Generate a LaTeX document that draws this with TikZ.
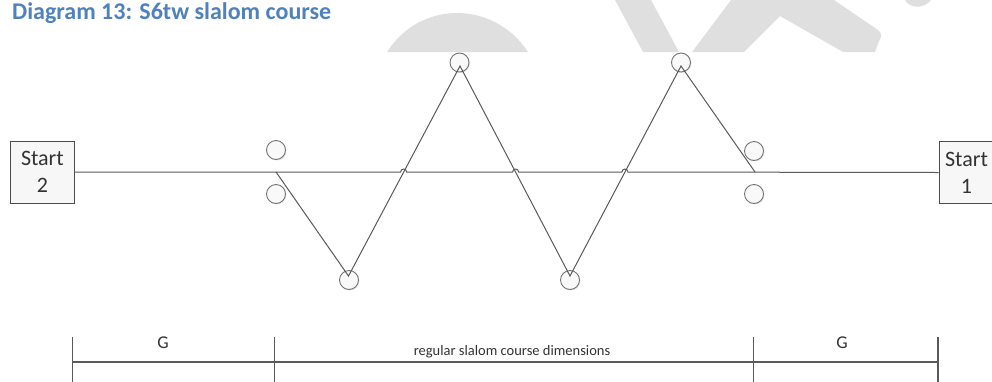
\documentclass[tikz,border=0pt]{standalone}
\usepackage{fontspec}
\setmainfont{Carlito}
\usetikzlibrary{shadows}
\definecolor{ttl}{HTML}{4F81BD}
\definecolor{ln}{HTML}{595959}
\definecolor{wm}{HTML}{DFDFDF}
\begin{document}
\begin{tikzpicture}[x=1pt,y=-1pt,
  buoy/.style={circle,draw=black!55,line width=0.9pt,fill=gray!5,minimum size=19pt,inner sep=0pt,
    drop shadow={opacity=0.18,shadow xshift=1pt,shadow yshift=-1pt}},
  startbox/.style={draw=black!70,line width=0.9pt,fill=gray!6,minimum width=63.5pt,minimum height=62pt,
    inner sep=0pt,align=center,font=\fontsize{22}{27}\selectfont,text=black!80},
  course/.style={draw=ln,line width=1pt},
  dim/.style={draw=ln,line width=1.3pt},
  dimlabel/.style={font=\fontsize{18}{20}\selectfont,text=black!80},
  watermark/.style={fill=wm,draw=none}]
\useasboundingbox (0,0) rectangle (992,381);
\clip (0,0) rectangle (992,381);
% watermark fragments
\fill[watermark] (387,52) .. controls (420,0) and (494,0) .. (528,52) -- cycle;
\fill[watermark] (615,0) -- (651,0) -- (679,52) -- (643,52) -- cycle;
\fill[watermark] (692,52) -- (731,0) -- (834,0) -- (878,30) .. controls (883,34) and (881,38) .. (879,41) -- (875,52) -- (843,52) -- (780,16) -- (744,52) -- cycle;
\fill[watermark] (905,0) .. controls (910,9) and (924,9) .. (931,0) -- cycle;
% title
\node[anchor=base west,inner sep=0pt,font=\fontsize{24}{28}\bfseries\selectfont,text=ttl] (title) at (12,19) {Diagram 13: S6tw slalom course};
% start boxes
\node[startbox] (s2) at (42.4,172) {Start\\2};
\node[startbox,minimum width=55pt] (s1) at (966.5,172.5) {Start\\1};
% gates and buoys
\node[buoy] (gL1) at (276,150) {};
\node[buoy] (gL2) at (276,194) {};
\node[buoy] (gR1) at (754,151) {};
\node[buoy] (gR2) at (754,194) {};
\node[buoy] (b1) at (349,280) {};
\node[buoy] (b2) at (459.5,62.5) {};
\node[buoy] (b3) at (570,280) {};
\node[buoy] (b4) at (681,62.5) {};
% course path vertices
\coordinate (pL) at (276,172);
\coordinate (v1) at (348.5,276);
\coordinate (v2) at (460,66);
\coordinate (v3) at (570,276);
\coordinate (v4) at (681,66);
\coordinate (pR) at (755,172);
% main line with jumps
\draw[course] (s2.east) -- (400.6,172) arc[start angle=180,end angle=0,radius=3pt]
  -- (512.6,172) arc[start angle=180,end angle=0,radius=3pt]
  -- (621.9,172) arc[start angle=180,end angle=0,radius=3pt]
  -- (s1.west);
% slalom path
\draw[course,line join=miter] (pL) -- (v1) -- (v2) -- (v3) -- (v4) -- (pR);
% dimension line
\coordinate (d1) at (72.3,362);
\coordinate (d2) at (274.3,362);
\coordinate (d3) at (753.5,362);
\coordinate (d4) at (938,362);
\draw[dim] (d1) -- (d4);
\foreach \c in {d1,d2,d3,d4}{\draw[dim] (\c) ++(0,-25) -- ++(0,50);}
\node[dimlabel] (gl) at (163,343) {G};
\node[dimlabel] (gr) at (842,343) {G};
\node[font=\fontsize{14.5}{16}\selectfont,text=black!80] (reg) at (512,352) {regular slalom course dimensions};
\end{tikzpicture}
\end{document}
